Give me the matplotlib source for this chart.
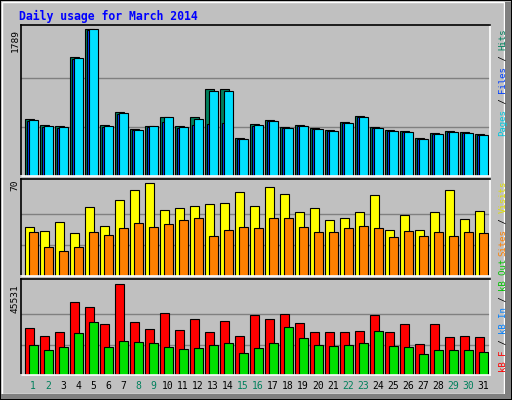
import numpy as np
import matplotlib.pyplot as plt
from matplotlib.patches import Rectangle

days = np.arange(1, 32)
weekend = [1, 2, 8, 9, 15, 16, 22, 23, 29, 30]

hits = [694, 621, 608, 1448, 1789, 621, 779, 572, 608, 718, 608, 718, 1059, 1059,
        462, 633, 682, 596, 621, 584, 560, 657, 730, 596, 560, 548, 462, 523, 548, 535, 511]
files = [670, 600, 590, 1420, 1777, 600, 760, 560, 600, 660, 590, 620, 630, 640,
         450, 610, 670, 585, 610, 575, 550, 645, 720, 590, 550, 535, 455, 515, 540, 525, 500]
pages = [682, 608, 596, 1436, 1789, 608, 767, 560, 608, 718, 596, 694, 1035, 1035,
         450, 621, 670, 584, 608, 572, 548, 645, 718, 584, 548, 535, 450, 511, 535, 523, 499]

visits = [37, 34, 41, 32, 52, 38, 57, 65, 70, 50, 51, 53, 54, 55, 63, 53,
          67, 62, 48, 51, 42, 44, 48, 61, 35, 46, 35, 48, 65, 43, 49]
sites = [33, 22, 19, 22, 33, 31, 36, 40, 37, 39, 42, 44, 30, 35, 37, 36,
         44, 44, 37, 33, 33, 36, 38, 36, 29, 34, 30, 33, 30, 33, 32]

kb_f = [23515, 19512, 21513, 36523, 34021, 25516, 45531, 26517, 23015, 31020, 22515, 28018,
        21513, 27017, 19512, 30019, 28018, 30519, 26016, 21513, 21513, 21513, 22014, 30019,
        21513, 25516, 15510, 25516, 19011, 19512, 19011]
kb_out = [15010, 12508, 14009, 21013, 26517, 14009, 17010, 16511, 16010, 14009, 13008, 13509,
          15010, 16010, 11007, 13509, 16010, 24015, 18511, 15010, 14509, 15010, 16010, 22014,
          14509, 14009, 10506, 12508, 12508, 12508, 11507]
kb_in = [300] * 31

W, H = 512, 400
fig = plt.figure(figsize=(W / 100, H / 100), dpi=100)
fig.patch.set_facecolor('#c0c0c0')

# bevelled outer frame
fig.patches.append(Rectangle((0, 0), 1, 1, transform=fig.transFigure, fill=False,
                             edgecolor='black', lw=1.5))
fig.patches.append(Rectangle((2 / W, 6 / H), (W - 10) / W, (H - 8) / H, transform=fig.transFigure,
                             fill=False, edgecolor='white', lw=1))
fig.patches.append(Rectangle((W - 8) / W, 1 / H, 6 / W, (H - 3) / H) if False else
                   Rectangle(((W - 7) / W, 1 / H), 6 / W, (H - 3) / H, transform=fig.transFigure,
                             color='#808080', lw=0))
fig.patches.append(Rectangle((1 / W, 1 / H), (W - 3) / W, 5 / H, transform=fig.transFigure,
                             color='#808080', lw=0))

mono = 'DejaVu Sans Mono'
fig.text(19 / W, 1 - 16 / H, 'Daily usage for March 2014', color='#0000ff', fontsize=8.3,
         fontweight='bold', family=mono, va='center', ha='left')

x0, x1 = 21, 490
xlim = ((x0 - 33) / 15 + 1, (x1 - 33) / 15 + 1)


def panel(top, base, peak_y, vmax):
    ax = fig.add_axes([x0 / W, 1 - base / H, (x1 - x0) / W, (base - top) / H])
    ax.set_facecolor('#c0c0c0')
    ax.set_xlim(*xlim)
    ax.set_ylim(0, vmax * (base - top) / (base - peak_y))
    for g in (1 / 3, 2 / 3):
        ax.axhline(vmax * g, color='#808080', lw=1, zorder=0)
    ax.set_xticks([])
    ax.set_yticks([])
    for s in ('top', 'left'):
        ax.spines[s].set_color('black')
    for s in ('bottom', 'right'):
        ax.spines[s].set_color('white')
    for s in ax.spines.values():
        s.set_linewidth(1.2)
    return ax


bw = 0.6
ax1 = panel(25, 176, 29, 1789)
ax1.bar(days - 0.53, hits, bw, align='edge', color='#00805c', edgecolor='black', lw=0.8)
ax1.bar(days - 0.42, files, bw, align='edge', color='#0040ff', edgecolor='black', lw=0.8)
ax1.bar(days - 0.27, pages, bw, align='edge', color='#00e0ff', edgecolor='black', lw=0.8)

ax2 = panel(179, 276, 183, 70)
ax2.bar(days - 0.53, visits, bw, align='edge', color='#ffff00', edgecolor='black', lw=0.8)
ax2.bar(days - 0.27, sites, bw, align='edge', color='#ff8000', edgecolor='black', lw=0.8)

ax3 = panel(279, 375, 284, 45531)
ax3.bar(days - 0.53, kb_f, bw, align='edge', color='#ff0000', edgecolor='black', lw=0.8)
ax3.bar(days - 0.45, kb_in, 0.2, align='edge', color='#0080ff', edgecolor='black', lw=0.5)
ax3.bar(days - 0.27, kb_out, bw, align='edge', color='#00e000', edgecolor='black', lw=0.8)

# left max labels
for txt, ytop in (('1789', 29), ('70', 180), ('45531', 284)):
    fig.text(15 / W, 1 - ytop / H, txt, rotation=90, fontsize=6.8, family=mono,
             va='top', ha='center', color='black')

# day labels
for d in days:
    fig.text((33 + 15 * (d - 1)) / W, 1 - 386 / H, str(d), fontsize=7, family=mono,
             ha='center', va='center', color='#00805c' if d in weekend else 'black')

# right legend labels, built piece by piece (bottom to top)
ch = 5.4


def side_label(ybottom, pieces):
    y = ybottom
    for txt, col in pieces:
        fig.text(503 / W, 1 - y / H, txt, rotation=90, fontsize=6.5, family=mono,
                 va='bottom', ha='center', color=col)
        y -= len(txt) * ch


side_label(136, [('Pages', '#00c8e0'), (' / ', 'black'), ('Files', '#0040ff'),
                 (' / ', 'black'), ('Hits', '#00805c')])
side_label(256, [('Sites', '#ff8000'), (' / ', 'black'), ('Visits', '#e0e000')])
side_label(372, [('kB F', '#ff0000'), (' / ', 'black'), ('kB In', '#0080ff'),
                 (' / ', 'black'), ('kB Out', '#00c000')])

plt.savefig('out.png', dpi=100, facecolor=fig.get_facecolor())
